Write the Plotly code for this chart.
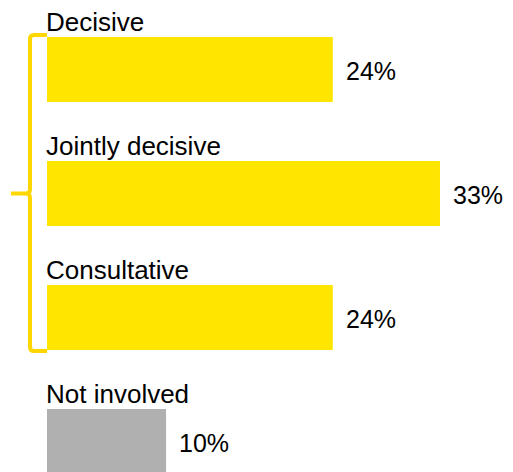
import plotly.graph_objects as go

categories = ["Decisive", "Jointly decisive", "Consultative", "Not involved"]
values = [24, 33, 24, 10]
value_labels = ["24%", "33%", "24%", "10%"]
colors = ["#FFE600", "#FFE600", "#FFE600", "#B0B0B0"]

FONT = "Liberation Sans, Arial, sans-serif"

fig = go.Figure()
fig.add_trace(go.Bar(
    x=values, y=categories, orientation="h",
    marker=dict(color=colors, line=dict(width=0)),
    hoverinfo="skip", showlegend=False,
))

for c, v, t in zip(categories, values, value_labels):
    fig.add_annotation(x=v, y=c, text=t, showarrow=False, xanchor="left",
                       yanchor="middle", xshift=11, yshift=-1,
                       font=dict(size=25, color="black", family=FONT))
    fig.add_annotation(x=0, y=c, text=c, showarrow=False, xanchor="left",
                       yanchor="bottom", yshift=31, xshift=-3,
                       font=dict(size=26, color="black", family=FONT))

bracket = ("M 0,-0.278 L -13,-0.278 Q -17,-0.278 -17,-0.245 "
           "L -17,0.965 Q -17,1 -21,1 L -36,1 "
           "M -21,1 Q -17,1 -17,1.035 "
           "L -17,2.235 Q -17,2.27 -13,2.27 L 0,2.27")
fig.add_shape(type="path", path=bracket, xref="paper", yref="y",
              xsizemode="pixel", xanchor=0,
              line=dict(color="#FFD700", width=4))

fig.update_layout(
    width=497, height=464,
    margin=dict(l=39, r=0, t=0, b=0),
    paper_bgcolor="white", plot_bgcolor="white",
    bargap=0.476,
    xaxis=dict(range=[0, 38.46], visible=False),
    yaxis=dict(range=[3.246, -0.496], visible=False,
               categoryorder="array", categoryarray=categories),
)

fig.write_html("out.html")
